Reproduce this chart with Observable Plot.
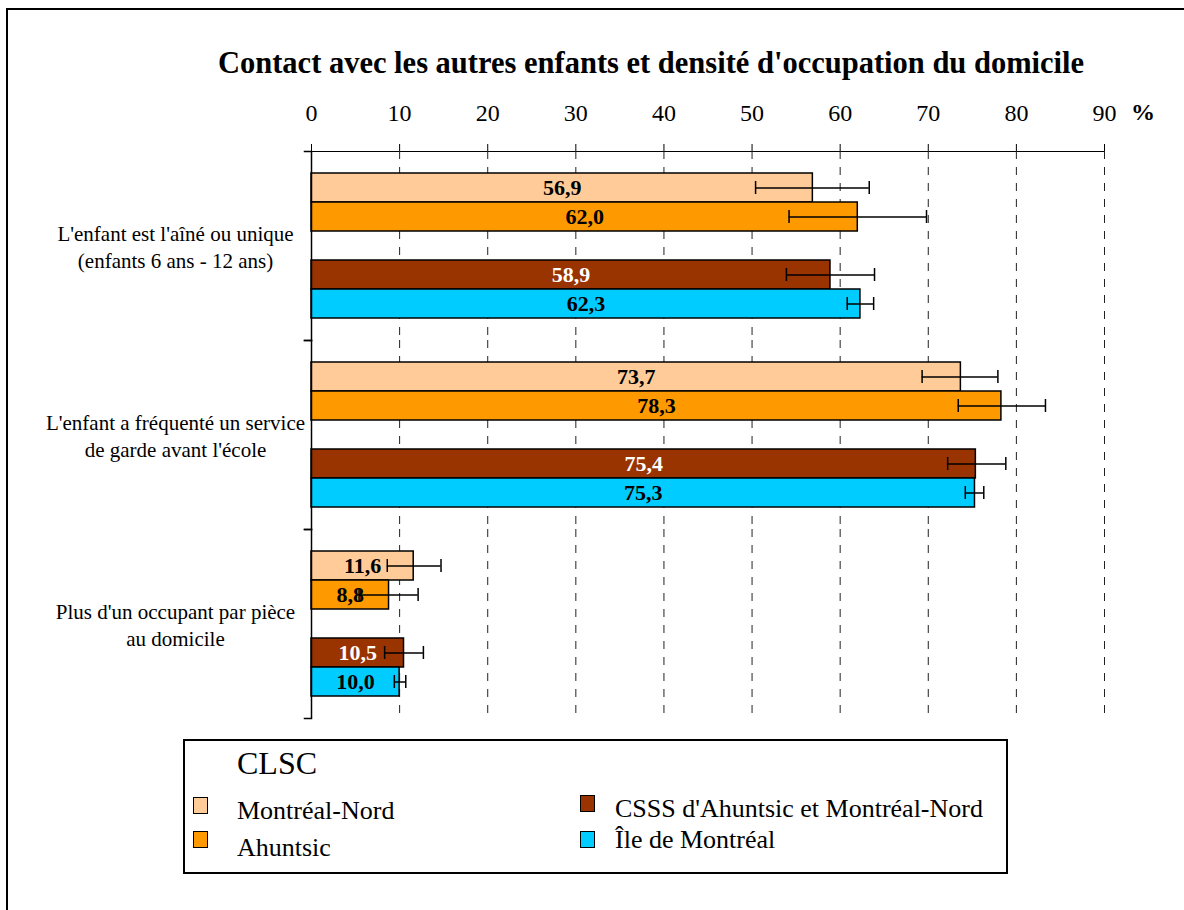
<!DOCTYPE html>
<html>
<head>
<meta charset="utf-8">
<script src="https://cdn.jsdelivr.net/npm/d3@7"></script>
<script src="https://cdn.jsdelivr.net/npm/@observablehq/plot@0.6"></script>
<style>
  body { margin: 0; background: #fff; overflow: hidden; }
  #page { position: relative; width: 1184px; height: 910px; overflow: hidden; background: #fff;
          font-family: "Liberation Serif", "Times New Roman", serif; color: #000; }
  #border { position: absolute; left: 6px; top: 8px; width: 1400px; height: 1200px; border: 2px solid #000; box-sizing: border-box; }
  #title { position: absolute; left: 0; width: 1302px; top: 48px; text-align: center; font-weight: bold; font-size: 30.5px; line-height: 1; white-space: nowrap; }
  #chart { position: absolute; left: 0; top: 90px; }
  #pct { position: absolute; left: 1131px; top: 100px; font-weight: bold; font-size: 24px; line-height: 1; }
  #legend { position: absolute; left: 183px; top: 739px; width: 825px; height: 135px; border: 2px solid #000; box-sizing: border-box; }
  .lg { position: absolute; line-height: 1; white-space: nowrap; font-size: 26px; }
  .sw { position: absolute; width: 15px; height: 17px; border: 1.5px solid #000; box-sizing: border-box; }
</style>
</head>
<body>
<div id="page">
  <div id="border"></div>
  <div id="title">Contact avec les autres enfants et densité d'occupation du domicile</div>
  <div id="chart"></div>
  <div id="pct">%</div>
  <div id="legend"></div>
  <div id="legendItems"></div>
</div>
<script>
// ---- Data ----
const categories = [
  "L'enfant est l'aîné ou unique\n(enfants 6 ans - 12 ans)",
  "L'enfant a fréquenté un service\nde garde avant l'école",
  "Plus d'un occupant par pièce\nau domicile"
];
const series = ["Montréal-Nord", "Ahuntsic", "CSSS d'Ahuntsic et Montréal-Nord", "Île de Montréal"];
const colors = ["#FFCC99", "#FF9900", "#993300", "#00CCFF"];
const legendTitle = "CLSC";

const valuesMontrealNord = [56.9, 73.7, 11.6];
const valuesAhuntsic     = [62.0, 78.3, 8.8];
const valuesCSSS         = [58.9, 75.4, 10.5];
const valuesIle          = [62.3, 75.3, 10.0];

const lowMontrealNord  = [50.4, 69.3, 8.6];
const highMontrealNord = [63.3, 77.9, 14.7];
const lowAhuntsic      = [54.2, 73.4, 5.4];
const highAhuntsic     = [69.8, 83.3, 12.1];
const lowCSSS          = [53.9, 72.2, 8.3];
const highCSSS         = [63.9, 78.8, 12.7];
const lowIle           = [60.8, 74.2, 9.4];
const highIle          = [63.8, 76.3, 10.7];

const xTicks = [0, 10, 20, 30, 40, 50, 60, 70, 80, 90];

// ---- Table built from the arrays ----
const values = [valuesMontrealNord, valuesAhuntsic, valuesCSSS, valuesIle];
const lows = [lowMontrealNord, lowAhuntsic, lowCSSS, lowIle];
const highs = [highMontrealNord, highAhuntsic, highCSSS, highIle];
const rows = [];
series.forEach((s, i) => categories.forEach((c, j) => rows.push({
  category: c, series: s, value: values[i][j], low: lows[i][j], high: highs[i][j]
})));
const ySlots = [series[0], series[1], " ", series[2], series[3]];
const darkSeries = series[2];
const fmt = v => v.toFixed(1).replace(".", ",");

const serif = "'Liberation Serif', 'Times New Roman', serif";

const chart = Plot.plot({
  width: 1184,
  height: 638,
  marginTop: 60,
  marginBottom: 10,
  marginLeft: 311,
  marginRight: 80,
  style: { fontFamily: serif, fontSize: "24px", color: "#000", background: "transparent" },
  x: { domain: [0, 90], axis: "top", ticks: xTicks, tickSize: 8, tickPadding: 23, label: null, line: true },
  y: { domain: ySlots, paddingInner: 0, paddingOuter: 0.68, axis: null },
  fy: { domain: categories, padding: 0, axis: null },
  color: { domain: series, range: colors },
  marks: [
    Plot.ruleX(xTicks.slice(1), { stroke: "#222", strokeDasharray: "8,8", strokeWidth: 1 }),
    Plot.barX(rows, { fy: "category", y: "series", x: "value", fill: "series", stroke: "#000", strokeWidth: 1.5 }),
    Plot.ruleY(rows, { fy: "category", y: "series", x1: "low", x2: "high", stroke: "#000", strokeWidth: 1.5 }),
    Plot.tickX(rows, { fy: "category", y: "series", x: "low", insetTop: 8, insetBottom: 8, stroke: "#000", strokeWidth: 1.5 }),
    Plot.tickX(rows, { fy: "category", y: "series", x: "high", insetTop: 8, insetBottom: 8, stroke: "#000", strokeWidth: 1.5 }),
    Plot.text(rows.filter(d => d.series !== darkSeries), {
      fy: "category", y: "series", x: d => d.value / 2, text: d => fmt(d.value),
      fill: "#000", fontWeight: "bold", fontSize: 22, fontFamily: serif
    }),
    Plot.text(rows.filter(d => d.series === darkSeries), {
      fy: "category", y: "series", x: d => d.value / 2, text: d => fmt(d.value),
      fill: "#fff", fontWeight: "bold", fontSize: 22, fontFamily: serif
    }),
    Plot.ruleX([0], { stroke: "#000", strokeWidth: 1.5 }),
    Plot.frame({ anchor: "top", insetLeft: -7, insetRight: 793, stroke: "#000", strokeWidth: 1.5 }),
    Plot.frame({ anchor: "bottom", insetLeft: -7, insetRight: 793, stroke: "#000", strokeWidth: 1.5 }),
    Plot.text(categories, {
      fy: d => d, text: d => d, frameAnchor: "left", dx: -136,
      textAnchor: "middle", lineAnchor: "middle", lineHeight: 1.3, fontSize: 21, fontFamily: serif, fill: "#000"
    })
  ]
});
document.getElementById("chart").appendChild(chart);

// ---- Legend (HTML) ----
const li = document.getElementById("legendItems");
const add = (html, cls, left, top, extra) => {
  const d = document.createElement("div");
  d.className = cls;
  d.style.left = left + "px";
  d.style.top = top + "px";
  if (extra) Object.assign(d.style, extra);
  d.textContent = html;
  li.appendChild(d);
};
add(legendTitle, "lg", 237, 747, { fontSize: "32px" });
const legendPos = [
  { sx: 193, sy: 797, tx: 237, ty: 798 },
  { sx: 193, sy: 831, tx: 237, ty: 835 },
  { sx: 580, sy: 795, tx: 615, ty: 796 },
  { sx: 580, sy: 831, tx: 615, ty: 827 }
];
series.forEach((s, i) => {
  const p = legendPos[i];
  add("", "sw", p.sx, p.sy, { background: colors[i] });
  add(s, "lg", p.tx, p.ty);
});
</script>
</body>
</html>
